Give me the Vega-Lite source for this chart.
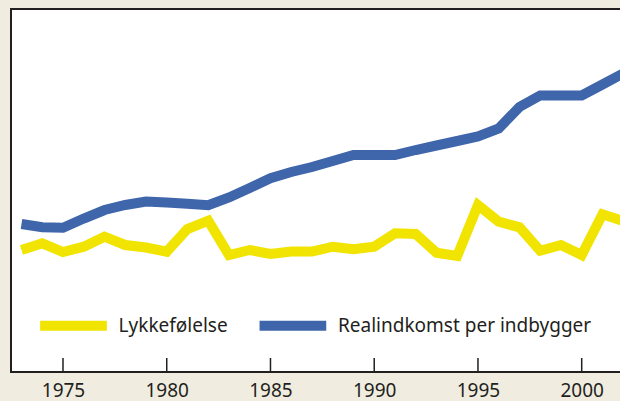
{
  "$schema": "https://vega.github.io/schema/vega-lite/v6.json",
  "width": 610,
  "height": 363,
  "autosize": {"type": "none"},
  "padding": {"left": 11, "top": 9, "right": 0, "bottom": 29},
  "background": "#f0ede0",
  "config": {
    "view": {"stroke": "#231f20", "strokeWidth": 2, "fill": "#ffffff"},
    "font": "Noto Sans"
  },
  "layer": [
    {
      "data": {
        "values": [
          {"year": 1973, "serie": "Realindkomst per indbygger", "value": 148.0},
          {"year": 1974, "serie": "Realindkomst per indbygger", "value": 144.7},
          {"year": 1975, "serie": "Realindkomst per indbygger", "value": 144.3},
          {"year": 1976, "serie": "Realindkomst per indbygger", "value": 153.5},
          {"year": 1977, "serie": "Realindkomst per indbygger", "value": 162.0},
          {"year": 1978, "serie": "Realindkomst per indbygger", "value": 167.0},
          {"year": 1979, "serie": "Realindkomst per indbygger", "value": 170.5},
          {"year": 1980, "serie": "Realindkomst per indbygger", "value": 169.5},
          {"year": 1981, "serie": "Realindkomst per indbygger", "value": 168.2},
          {"year": 1982, "serie": "Realindkomst per indbygger", "value": 166.7},
          {"year": 1983, "serie": "Realindkomst per indbygger", "value": 174.5},
          {"year": 1984, "serie": "Realindkomst per indbygger", "value": 184.0},
          {"year": 1985, "serie": "Realindkomst per indbygger", "value": 193.7},
          {"year": 1986, "serie": "Realindkomst per indbygger", "value": 200.0},
          {"year": 1987, "serie": "Realindkomst per indbygger", "value": 205.0},
          {"year": 1988, "serie": "Realindkomst per indbygger", "value": 211.0},
          {"year": 1989, "serie": "Realindkomst per indbygger", "value": 217.0},
          {"year": 1990, "serie": "Realindkomst per indbygger", "value": 217.0},
          {"year": 1991, "serie": "Realindkomst per indbygger", "value": 217.0},
          {"year": 1992, "serie": "Realindkomst per indbygger", "value": 222.0},
          {"year": 1993, "serie": "Realindkomst per indbygger", "value": 226.5},
          {"year": 1994, "serie": "Realindkomst per indbygger", "value": 231.0},
          {"year": 1995, "serie": "Realindkomst per indbygger", "value": 235.5},
          {"year": 1996, "serie": "Realindkomst per indbygger", "value": 243.5},
          {"year": 1997, "serie": "Realindkomst per indbygger", "value": 265.0},
          {"year": 1998, "serie": "Realindkomst per indbygger", "value": 276.5},
          {"year": 1999, "serie": "Realindkomst per indbygger", "value": 276.5},
          {"year": 2000, "serie": "Realindkomst per indbygger", "value": 276.5},
          {"year": 2001, "serie": "Realindkomst per indbygger", "value": 287.5},
          {"year": 2002, "serie": "Realindkomst per indbygger", "value": 298.5},
          {"year": 1973, "serie": "Lykkefølelse", "value": 122.0},
          {"year": 1974, "serie": "Lykkefølelse", "value": 128.7},
          {"year": 1975, "serie": "Lykkefølelse", "value": 120.0},
          {"year": 1976, "serie": "Lykkefølelse", "value": 125.3},
          {"year": 1977, "serie": "Lykkefølelse", "value": 135.3},
          {"year": 1978, "serie": "Lykkefølelse", "value": 127.0},
          {"year": 1979, "serie": "Lykkefølelse", "value": 124.5},
          {"year": 1980, "serie": "Lykkefølelse", "value": 120.3},
          {"year": 1981, "serie": "Lykkefølelse", "value": 143.0},
          {"year": 1982, "serie": "Lykkefølelse", "value": 151.3},
          {"year": 1983, "serie": "Lykkefølelse", "value": 117.0},
          {"year": 1984, "serie": "Lykkefølelse", "value": 122.0},
          {"year": 1985, "serie": "Lykkefølelse", "value": 118.0},
          {"year": 1986, "serie": "Lykkefølelse", "value": 120.5},
          {"year": 1987, "serie": "Lykkefølelse", "value": 120.5},
          {"year": 1988, "serie": "Lykkefølelse", "value": 125.3},
          {"year": 1989, "serie": "Lykkefølelse", "value": 122.7},
          {"year": 1990, "serie": "Lykkefølelse", "value": 125.3},
          {"year": 1991, "serie": "Lykkefølelse", "value": 138.7},
          {"year": 1992, "serie": "Lykkefølelse", "value": 138.0},
          {"year": 1993, "serie": "Lykkefølelse", "value": 119.3},
          {"year": 1994, "serie": "Lykkefølelse", "value": 116.0},
          {"year": 1995, "serie": "Lykkefølelse", "value": 167.0},
          {"year": 1996, "serie": "Lykkefølelse", "value": 150.3},
          {"year": 1997, "serie": "Lykkefølelse", "value": 144.7},
          {"year": 1998, "serie": "Lykkefølelse", "value": 121.3},
          {"year": 1999, "serie": "Lykkefølelse", "value": 127.0},
          {"year": 2000, "serie": "Lykkefølelse", "value": 117.0},
          {"year": 2001, "serie": "Lykkefølelse", "value": 157.7},
          {"year": 2002, "serie": "Lykkefølelse", "value": 151.0}
        ]
      },
      "mark": {"type": "line", "strokeWidth": 10, "clip": true, "strokeJoin": "miter"},
      "encoding": {
        "x": {
          "field": "year",
          "type": "quantitative",
          "scale": {"domain": [1972.494, 2001.894], "nice": false, "zero": false},
          "axis": {
            "title": null,
            "values": [1975, 1980, 1985, 1990, 1995, 2000],
            "format": "d",
            "grid": false,
            "ticks": true,
            "domain": false,
            "tickSize": 0,
            "labelPadding": 9,
            "labelFontSize": 19,
            "labelColor": "#231f20",
            "labelFont": "Noto Sans"
          }
        },
        "y": {
          "field": "value",
          "type": "quantitative",
          "scale": {"domain": [0, 363], "nice": false, "zero": true},
          "axis": null
        },
        "color": {
          "field": "serie",
          "type": "nominal",
          "scale": {
            "domain": ["Lykkefølelse", "Realindkomst per indbygger"],
            "range": ["#f1e400", "#3f66ab"]
          },
          "legend": {
            "title": null,
            "orient": "none",
            "direction": "horizontal",
            "legendX": 24,
            "legendY": 278,
            "padding": 0,
            "symbolType": "stroke",
            "symbolSize": 4449,
            "symbolStrokeWidth": 10,
            "labelOffset": 6.6,
            "columnPadding": 11.4,
            "labelFontSize": 19,
            "labelColor": "#231f20",
            "labelFont": "Noto Sans",
            "labelLimit": 400
          }
        }
      }
    },
    {
      "data": {"values": [{"year": 1975}, {"year": 1980}, {"year": 1985}, {"year": 1990}, {"year": 1995}, {"year": 2000}]},
      "mark": {"type": "rule", "color": "#231f20", "strokeWidth": 1.5},
      "encoding": {
        "x": {"field": "year", "type": "quantitative"},
        "y": {"datum": 0},
        "y2": {"datum": 14}
      }
    }
  ]
}
